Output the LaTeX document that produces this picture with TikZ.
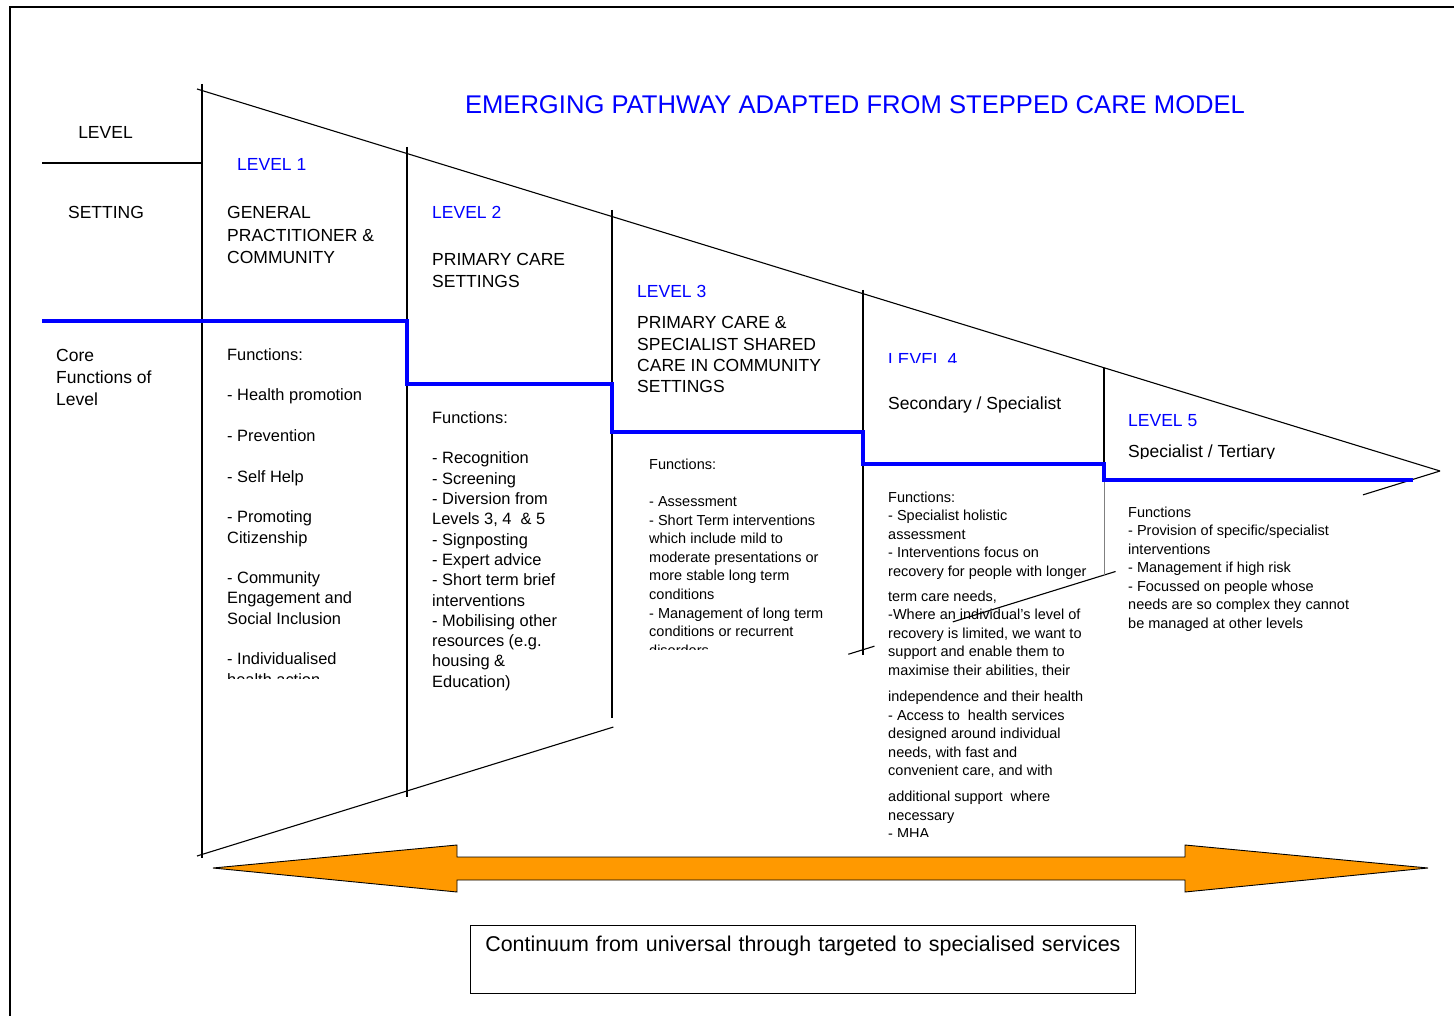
\documentclass[tikz,border=0pt]{standalone}
\usepackage{fontspec}
\setmainfont{Liberation Sans}
\usetikzlibrary{calc}
\definecolor{pathblue}{RGB}{0,0,255}
\definecolor{arroworange}{RGB}{255,153,0}

\begin{document}
\begin{tikzpicture}[x=1pt, y=-1pt,
  every node/.style={inner sep=0pt},
  rule/.style={line width=1.1pt},
  levelname/.style={anchor=base west, text=pathblue, font=\fontsize{17.5}{21}\selectfont},
  settingline/.style={anchor=base west, font=\fontsize{17.5}{21}\selectfont},
  setting/.style={anchor=north west, align=left, font=\fontsize{17.5}{#1}\selectfont},
  setting/.default=22.5,
  funcs/.style={anchor=north west, align=left, font=\fontsize{16.4}{20.3}\selectfont},
  smallfuncs/.style={anchor=north west, align=left, font=\fontsize{14.5}{#1}\selectfont},
  smallfuncs/.default=18.6]
  \useasboundingbox (0,0) rectangle (1454,1016);
  \draw[line width=2pt] (10,1030) -- (10,7) -- (1470,7);

  \coordinate (tl) at (197,89);
  \coordinate (bl) at (197,856);
  \coordinate (tip) at (1440,471);
  \draw[rule] (tl) -- (tip);
  \draw[rule] (bl) -- ($(bl)!0.335!(tip)$);
  \draw[rule] ($(bl)!0.524!(tip)$) -- ($(bl)!0.545!(tip)$);
  \draw[rule] ($(bl)!0.608!(tip)$) -- ($(bl)!0.739!(tip)$);
  \draw[rule] ($(bl)!0.938!(tip)$) -- (tip);
  \draw[rule] (202,84) -- (202,858);
  \draw[rule] (407,147) -- (407,797);
  \draw[rule] (612,210) -- (612,718);
  \draw[rule] (863,290) -- (863,655);
  \draw[rule] (1104,368) -- (1104,480);
  \draw[gray, line width=0.8pt] (1104,480) -- (1104,575);
  \draw[rule] (42,163) -- (202,163);

  \draw[pathblue, line width=4pt] (42,321) -| (407,384) -| (612,432) -| (863,464) -| (1104,480) -- (1413,480);

  \draw[fill=arroworange, line width=0.9pt] (213,868) -- (457,845) -- (457,857) -- (1185,857)
    -- (1185,845) -- (1428,868) -- (1185,892) -- (1185,880) -- (457,880) -- (457,892) -- cycle;

  \node[draw, line width=0.9pt, anchor=north west, text width=640pt, align=center,
    inner xsep=12.5pt, inner ysep=11pt, text depth=30pt, font=\fontsize{21.4}{25}\selectfont]
    (continuum) at (470,925) {Continuum from universal through targeted to specialised services};

  \node[text=pathblue, font=\fontsize{25.6}{30}\selectfont] (title) at (855,105)
    {EMERGING PATHWAY ADAPTED FROM STEPPED CARE MODEL};

  \node[anchor=base, font=\fontsize{17.5}{21}\selectfont] (levelhd) at (105.5,139) {LEVEL};
  \node[anchor=base, font=\fontsize{17.5}{21}\selectfont] (settinghd) at (106,219) {SETTING};
  \node[setting=22] (corehd) at (56,349.5) {Core\\Functions of\\Level};

  \node[levelname] (lvl1) at (237,171) {LEVEL 1};
  \node[setting] (set1) at (227,206.5) {GENERAL\\PRACTITIONER \&\\COMMUNITY};
  \begin{scope}
    \clip (202,330) rectangle (407,678);
    \node[funcs] (fun1) at (227,348.25) {Functions:\\[20.3pt]- Health promotion\\[20.3pt]- Prevention\\[20.3pt]- Self Help\\[20.3pt]- Promoting\\Citizenship\\[20.3pt]- Community\\Engagement and\\Social Inclusion\\[20.3pt]- Individualised\\health action};
  \end{scope}

  \node[levelname] (lvl2) at (432,219) {LEVEL 2};
  \node[setting=22] (set2) at (432,253.5) {PRIMARY CARE\\SETTINGS};
  \node[funcs] (fun2) at (432,411.25) {Functions:\\[20.3pt]- Recognition\\- Screening\\- Diversion from\\Levels 3, 4~ \& 5\\- Signposting\\- Expert advice\\- Short term brief\\interventions\\- Mobilising other\\resources (e.g.\\housing \&\\Education)};

  \node[levelname] (lvl3) at (637,298) {LEVEL 3};
  \node[setting=21.3] (set3) at (637,316.5) {PRIMARY CARE \&\\SPECIALIST SHARED\\CARE IN COMMUNITY\\SETTINGS};
  \begin{scope}
    \clip (612,440) rectangle (863,649);
    \node[smallfuncs] (fun3) at (649,458.6) {Functions:\\[18.6pt]- Assessment\\- Short Term interventions\\which include mild to\\moderate presentations or\\more stable long term\\conditions\\- Management of long term\\conditions or recurrent\\disorders};
  \end{scope}

  \begin{scope}
    \clip (863,340) rectangle (1104,362);
    \node[levelname] (lvl4) at (888,366) {LEVEL 4};
  \end{scope}
  \node[settingline] (set4) at (888,409) {Secondary / Specialist};
  \begin{scope}
    \clip (863,470) rectangle (1104,836);
    \node[smallfuncs=18.5] (fun4) at (888,491.6) {Functions:\\- Specialist holistic\\assessment\\- Interventions focus on\\recovery for people with longer\\[6.5pt]term care needs,\\-Where an individual’s level of\\recovery is limited, we want to\\support and enable them to\\maximise their abilities, their\\[8pt]independence and their health\\- Access to~ health services\\designed around individual\\needs, with fast and\\convenient care, and with\\[7.5pt]additional support~ where\\necessary\\- MHA};
  \end{scope}

  \node[levelname] (lvl5) at (1128,426) {LEVEL 5};
  \begin{scope}
    \clip (1104,430) rectangle (1440,458);
    \node[settingline] (set5) at (1128,457) {Specialist / Tertiary};
  \end{scope}
  \node[smallfuncs=18.5] (fun5) at (1128,506.6) {Functions\\- Provision of specific/specialist\\interventions\\- Management if high risk\\- Focussed on people whose\\needs are so complex they cannot\\be managed at other levels};
\end{tikzpicture}
\end{document}
